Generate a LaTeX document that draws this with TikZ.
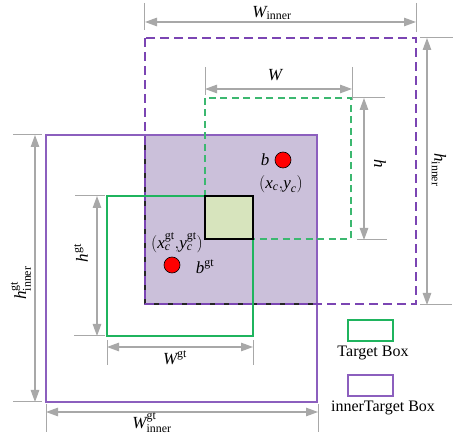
\documentclass[tikz,border=0pt]{standalone}
\usepackage{fontspec}
\usepackage{amsmath}
\setmainfont{Liberation Serif}
\usetikzlibrary{arrows.meta}
\definecolor{dimgray}{HTML}{A8A8A8}
\definecolor{boxpurple}{HTML}{8C5FBE}
\definecolor{dashpurple}{HTML}{7B45B3}
\definecolor{boxgreen}{HTML}{1FB45E}
\definecolor{dashgreen}{HTML}{3CB870}
\definecolor{lav}{HTML}{CBC0DA}
\definecolor{lgreen}{HTML}{D7E4BD}
\begin{document}
\begin{tikzpicture}[x=1pt,y=-1pt,font=\fontsize{16}{19}\selectfont,
  dimline/.style={draw=dimgray,line width=1.2pt,{Triangle[length=12pt,width=8.5pt]}-{Triangle[length=12pt,width=8.5pt]}},
  extline/.style={draw=dimgray,line width=1pt},
  lbl/.style={inner sep=0pt},
  mlbl/.style={inner sep=0pt,font=\fontsize{17}{20}\selectfont},
  solidpurple/.style={draw=boxpurple,line width=1.5pt},
  dashedpurple/.style={draw=dashpurple,line width=1.5pt,dash pattern=on 9pt off 5pt},
  solidgreen/.style={draw=boxgreen,line width=1.5pt},
  dashedgreen/.style={draw=dashgreen,line width=1.5pt,dash pattern=on 7pt off 4.5pt},
  centre/.style={circle,fill=red,draw=black,line width=0.6pt,minimum size=16pt,inner sep=0pt}]
\useasboundingbox (0,0) rectangle (453,443);
% box corners
\coordinate (pi1) at (145,38);  \coordinate (pi2) at (416,304);
\coordinate (p1) at (205,98);   \coordinate (p2) at (351,239);
\coordinate (gi1) at (46,135);  \coordinate (gi2) at (317,402);
\coordinate (g1) at (107,196);  \coordinate (g2) at (253,336);
% intersection of inner boxes
\fill[lav] (pi1 |- gi1) rectangle (gi2 |- pi2);
\draw[black!85,line width=1.5pt] (pi1 |- gi1) rectangle (gi2 |- pi2);
% boxes
\draw[solidpurple] (gi1) rectangle (gi2);
\draw[dashedpurple] (pi1) rectangle (pi2);
\draw[solidgreen] (g1) rectangle (g2);
\draw[dashedgreen] (p1) rectangle (p2);
% intersection of boxes
\draw[black,line width=1.3pt,fill=lgreen] (p1 |- g1) rectangle (g2 |- p2);
% centres
\node[centre] (b) at (283,160) {};
\node[centre] (bgt) at (172,265) {};
\node[mlbl] (blbl) at (265,160) {$\textit{b}$};
\node[mlbl] (bc) at (281,184) {$(\textit{x}_{\textit{c}}{,}\textit{y}_{\textit{c}})$};
\node[mlbl] (bgtc) at (177,243) {$(\textit{x}^{\text{gt}}_{\textit{c}}{,}\textit{y}^{\text{gt}}_{\textit{c}})$};
\node[mlbl] (bgtlbl) at (205,267) {$\textit{b}^{\text{gt}}$};
% W_inner
\coordinate (a1) at (144,3);  \coordinate (a2) at (144,30);
\coordinate (a3) at (416,3);  \coordinate (a4) at (416,32);
\draw[extline] (a1) -- (a2); \draw[extline] (a3) -- (a4);
\coordinate (a5) at (145,22); \coordinate (a6) at (416,22);
\draw[dimline] (a5) -- (a6);
\node[mlbl] (Winner) at (272,13) {$\textit{W}_{\text{inner}}$};
% W
\coordinate (c1) at (205,67); \coordinate (c2) at (205,95);
\coordinate (c3) at (352,67); \coordinate (c4) at (352,100);
\draw[extline] (c1) -- (c2); \draw[extline] (c3) -- (c4);
\coordinate (c5) at (205,89); \coordinate (c6) at (352,89);
\draw[dimline] (c5) -- (c6);
\node[mlbl] (W) at (275,75) {$\textit{W}$};
% h
\coordinate (d1) at (353,98);  \coordinate (d2) at (385,98);
\coordinate (d3) at (357,240); \coordinate (d4) at (387,240);
\draw[extline] (d1) -- (d2); \draw[extline] (d3) -- (d4);
\coordinate (d5) at (364,98); \coordinate (d6) at (364,240);
\draw[dimline] (d5) -- (d6);
\node[mlbl,rotate=-90] (h) at (380,164) {$\textit{h}$};
% h_inner
\coordinate (e1) at (420,38);  \coordinate (e2) at (453,38);
\coordinate (e3) at (420,305); \coordinate (e4) at (452,305);
\draw[extline] (e1) -- (e2); \draw[extline] (e3) -- (e4);
\coordinate (e5) at (427,38); \coordinate (e6) at (427,305);
\draw[dimline] (e5) -- (e6);
\node[mlbl,rotate=-90] (hinner) at (439,170) {$\textit{h}_{\text{inner}}$};
% h^gt_inner
\coordinate (f1) at (13,135); \coordinate (f2) at (42,135);
\coordinate (f3) at (13,402); \coordinate (f4) at (42,402);
\draw[extline] (f1) -- (f2); \draw[extline] (f3) -- (f4);
\coordinate (f5) at (35,135); \coordinate (f6) at (35,402);
\draw[dimline] (f5) -- (f6);
\node[mlbl,rotate=90] (hgtinner) at (21,283) {$\textit{h}^{\text{gt}}_{\text{inner}}$};
% h^gt
\coordinate (k1) at (75,196); \coordinate (k2) at (105,196);
\coordinate (k3) at (74,336); \coordinate (k4) at (105,336);
\draw[extline] (k1) -- (k2); \draw[extline] (k3) -- (k4);
\coordinate (k5) at (97,196); \coordinate (k6) at (97,336);
\draw[dimline] (k5) -- (k6);
\node[mlbl,rotate=90] (hgt) at (81,253) {$\textit{h}^{\text{gt}}$};
% W^gt
\coordinate (m1) at (107,340); \coordinate (m2) at (107,365);
\coordinate (m3) at (253,340); \coordinate (m4) at (253,365);
\draw[extline] (m1) -- (m2); \draw[extline] (m3) -- (m4);
\coordinate (m5) at (107,347); \coordinate (m6) at (253,347);
\draw[dimline] (m5) -- (m6);
\node[mlbl] (Wgt) at (175,358) {$\textit{W}^{\text{gt}}$};
% W^gt_inner
\coordinate (n1) at (46,404); \coordinate (n2) at (46,432);
\coordinate (n3) at (318,404); \coordinate (n4) at (318,432);
\draw[extline] (n1) -- (n2); \draw[extline] (n3) -- (n4);
\coordinate (n5) at (46,412); \coordinate (n6) at (318,412);
\draw[dimline] (n5) -- (n6);
\node[mlbl] (Wgtinner) at (152,423) {$\textit{W}^{\text{gt}}_{\text{inner}}$};
% legend
\draw[solidgreen] (348,320) rectangle (393,341);
\node[lbl] (lg1) at (373,353) {Target Box};
\draw[solidpurple] (348,375) rectangle (393,396);
\node[lbl] (lg2) at (383,408) {innerTarget Box};
\end{tikzpicture}
\end{document}
